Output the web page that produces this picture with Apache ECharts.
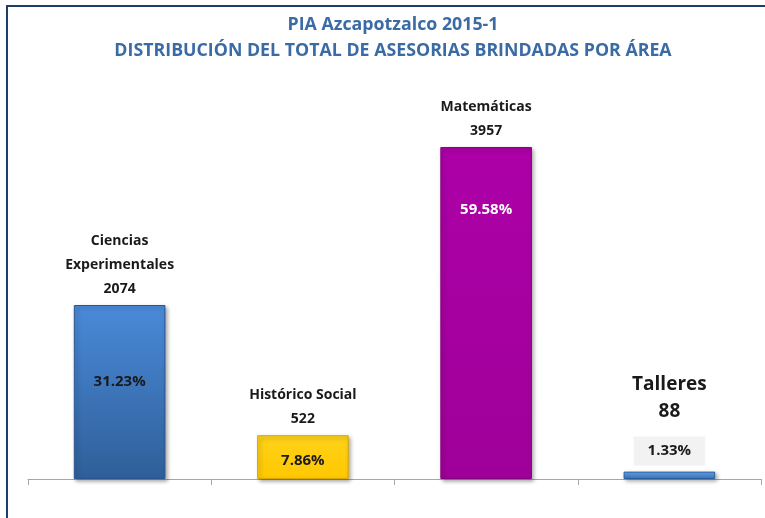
<!DOCTYPE html>
<html><head><meta charset="utf-8">
<script src="https://cdn.jsdelivr.net/npm/echarts@6/dist/echarts.min.js"></script>
<style>html,body{margin:0;padding:0;background:#fff}#c{width:765px;height:518px}</style>
</head><body><div id="c"></div>
<script>
const titleLines = ['PIA Azcapotzalco 2015-1', 'DISTRIBUCIÓN DEL TOTAL DE ASESORIAS BRINDADAS POR ÁREA'];
const categories = ['Ciencias Experimentales', 'Histórico Social', 'Matemáticas', 'Talleres'];
const values = [2074, 522, 3957, 88];
const percents = ['31.23%', '7.86%', '59.58%', '1.33%'];

const FONT = '"Open Sans", Lato, sans-serif';
// [top, bottom, edge]
const colors = [
  ['#4a8ad9', '#2f5f99', '#2a5590'],
  ['#ffd21a', '#ffc800', '#d9a800'],
  ['#ad00a7', '#a0009a', '#85007f'],
  ['#6aa8ee', '#3a74bd', '#2c5f9f']
];
function grad(c) {
  return new echarts.graphic.LinearGradient(0, 0, 0, 1, [
    {offset: 0, color: c[0]}, {offset: 1, color: c[1]}
  ]);
}
const mainData = values.map((v, i) => {
  const big = i === 3;
  return {
    value: v,
    itemStyle: {color: grad(colors[i]), borderColor: colors[i][2], borderWidth: 1},
    label: big ? {distance: 47, fontSize: 19, lineHeight: 27} : {}
  };
});
const pctLabelCfg = [
  {position: 'inside', offset: [0, -10], color: '#1a1a1a'},
  {position: 'inside', offset: [0, 4], color: '#1a1a1a'},
  {position: 'insideTop', distance: 55, color: '#ffffff'},
  {position: 'top', distance: 6, color: '#1a1a1a', backgroundColor: '#f2f2f2', padding: [7, 14, 7, 14]}
];
const pctData = values.map((v, i) => ({value: v, label: Object.assign({show: true, formatter: percents[i]}, pctLabelCfg[i])}));

const chart = echarts.init(document.getElementById('c'));
chart.setOption({
  animation: false,
  title: {
    text: titleLines.join('\n'), left: 388, top: 7, textAlign: 'center',
    textStyle: {fontFamily: FONT, fontSize: 17.8, fontWeight: 'bold', color: '#3b6ba5', lineHeight: 26}
  },
  graphic: [{type: 'rect', shape: {x: 7, y: 6, width: 900, height: 700}, style: {fill: 'none', stroke: '#1f3d6b', lineWidth: 2}, silent: true}],
  grid: {left: 28, right: 4, top: 101.5, bottom: 39},
  xAxis: {
    type: 'category', data: categories,
    axisLine: {lineStyle: {color: '#a6a6a6', width: 1}},
    axisTick: {show: true, length: 6, lineStyle: {color: '#a6a6a6'}},
    axisLabel: {show: false}
  },
  yAxis: {type: 'value', min: 0, max: 4500, show: false, splitLine: {show: false}},
  series: [
    {
      type: 'bar', data: mainData, barWidth: '50%', barGap: '-100%',
      itemStyle: {shadowColor: 'rgba(0,0,0,0.35)', shadowBlur: 4, shadowOffsetX: 2, shadowOffsetY: 2},
      label: {
        show: true, position: 'top', distance: 4,
        fontFamily: FONT, fontWeight: 'bold', fontSize: 14, lineHeight: 24, color: '#1a1a1a',
        formatter: p => (p.name.length > 16 ? p.name.replace(' ', '\n') : p.name) + '\n' + p.value
      }
    },
    {
      type: 'bar', data: pctData, barWidth: '50%', barGap: '-100%', z: 5,
      itemStyle: {color: 'rgba(0,0,0,0)'},
      label: {fontFamily: FONT, fontWeight: 'bold', fontSize: 15}
    }
  ]
});
</script></body></html>
